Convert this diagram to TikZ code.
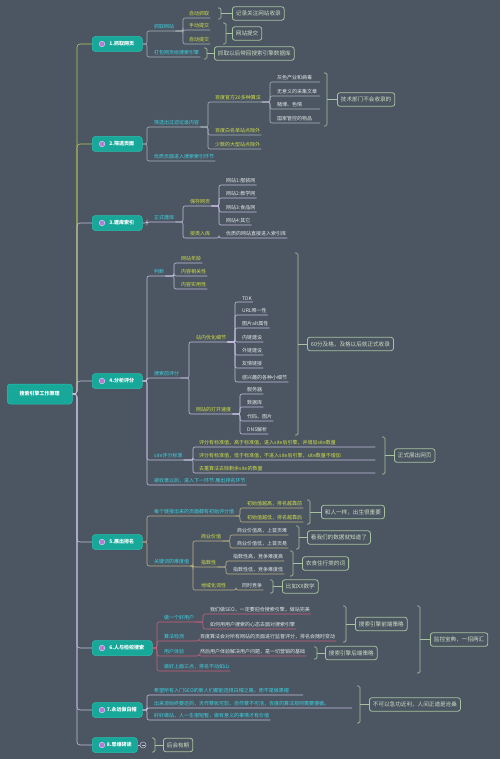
\documentclass[tikz,border=0pt]{standalone}
\usepackage{fontspec}
\newfontfamily\cjk{Noto Sans CJK SC}
\usetikzlibrary{calc}
\definecolor{bgc}{HTML}{4B5662}
\definecolor{tealc}{HTML}{17A89A}
\definecolor{teald}{HTML}{2BBFB0}
\definecolor{cyanc}{HTML}{3DD3E3}
\definecolor{yelc}{HTML}{D3DE4A}
\definecolor{whc}{HTML}{E4E6E8}
\definecolor{boxc}{HTML}{A6C29E}
\definecolor{boxt}{HTML}{CCDCC4}
\definecolor{lng}{HTML}{A9B1B9}
\definecolor{lnp}{HTML}{C8607C}
\definecolor{lnt}{HTML}{BFAE88}
\definecolor{lnl}{HTML}{C4BEDC}
\definecolor{lny}{HTML}{B6C95C}
\definecolor{iconc}{HTML}{B57AD6}
\newcommand\cnx[4][lng]{\draw[ln,#1] let \p1=(#2) in (#2) -- (#3pt,\y1) |- (#4);}
\newcommand\brk[6]{%
 \draw[brc] (#1-3,#2) -- (#1,#2) -- (#1,#3) -- (#1-3,#3);
 \node[sumbox] (#5) at (#4,{(#2+#3)/2}) {#6};
 \draw[brc] (#1,{(#2+#3)/2}) -- (#5.west);}
\begin{document}
\begin{tikzpicture}[x=1pt,y=-1pt,font=\cjk\fontsize{5}{6}\selectfont,
 tx/.style={anchor=south west,inner xsep=1pt,inner ysep=1.6pt},
 cy/.style={tx,text=cyanc},
 yl/.style={tx,text=yelc},
 wt/.style={tx,text=whc},
 mainbox/.style={anchor=west,fill=tealc,draw=teald,line width=0.5pt,rounded corners=3pt,minimum height=15pt,minimum width=50pt,text=white,font=\cjk\bfseries\fontsize{5}{6}\selectfont,inner xsep=2pt},
 rootbox/.style={anchor=west,fill=tealc,draw=teald,line width=0.5pt,rounded corners=3pt,minimum height=20pt,minimum width=65pt,text=white,font=\cjk\bfseries\fontsize{5}{6}\selectfont},
 sumbox/.style={anchor=west,draw=boxc,line width=0.8pt,rounded corners=2.5pt,minimum height=13.5pt,text=boxt,inner xsep=3.5pt,inner ysep=1pt,font=\cjk\fontsize{5.6}{6}\selectfont},
 ln/.style={line width=0.6pt,rounded corners=2pt},
 brc/.style={draw=boxc,line width=0.7pt,rounded corners=1.5pt},
 icon/.style={fill=iconc,draw=white!70!iconc,line width=0.4pt}
]
\fill[bgc] (0,0) rectangle (500,759);
\useasboundingbox (0,0) rectangle (500,759);

% root and main nodes
\node[rootbox] (R) at (7,394) {搜索引擎工作原理};
\node[mainbox] (M1) at (92,44) {\hspace{9pt}1.抓取网页};
\node[mainbox] (M2) at (92,144) {\hspace{9pt}2.筛选页面};
\node[mainbox] (M3) at (92,223) {\hspace{9pt}3.建库索引};
\node[mainbox] (M4) at (92,381) {\hspace{9pt}4.分析评分};
\node[mainbox] (M5) at (92,542) {\hspace{9pt}5.展出排名};
\node[mainbox,minimum width=60pt] (M6) at (92,648) {\hspace{9pt}6.人与检校搜索};
\node[mainbox] (M7) at (92,710) {\hspace{9pt}7.永远做白帽};
\node[mainbox,minimum width=45pt] (M8) at (92,745) {\hspace{9pt}8.思维研读};
\foreach \m in {M1,M2,M3,M4,M5,M6,M7,M8} \draw[icon] ($(\m.west)+(10,0)$) circle (2.8pt);

\draw[ln,lny,rounded corners=3pt] (R.east) -- (77,394) |- (M1.west);
\draw[ln,lny,rounded corners=3pt] (R.east) -- (77,394) |- (M2.west);
\foreach \m in {M3,M4,M5,M6,M7,M8} \draw[ln,lnl,rounded corners=3pt] (R.east) -- (77,394) |- (\m.west);

% branch 1
\node[cy] (a1) at (153,31) {抓取网站};
\node[yl] (a11) at (188,18) {自动抓取};
\node[yl] (a12) at (188,30) {手动提交};
\node[yl] (a13) at (188,44) {自动提交};
\node[cy] (a2) at (153,57) {打包网页给搜索引擎};
\cnx{M1.east}{147}{a1.south east}
\cnx{M1.east}{147}{a2.south east}
\cnx{a1.south east}{183}{a11.south east}
\cnx{a1.south east}{183}{a12.south east}
\cnx{a1.south east}{183}{a13.south east}
\brk{221}{8}{19}{232}{s1}{记录关注网站收录}
\brk{226}{23}{44}{232}{s2}{网站提交}
\brk{207}{48}{59}{214}{s3}{抓取以后带回搜索引擎数据库}

% branch 2
\node[cy] (b1) at (153,127) {筛选出过滤垃圾内容};
\node[yl] (b11) at (214,102) {百度官方20多种算法};
\node[yl] (b12) at (214,135) {百度白名单站点除外};
\node[yl] (b13) at (214,149) {少数的大型站点除外};
\node[wt] (b111) at (276,82) {灰色产业和病毒};
\node[wt] (b112) at (276,96) {无意义的采集文章};
\node[wt] (b113) at (276,109) {赌博、色情};
\node[wt] (b114) at (276,123) {国家管控的物品};
\node[cy] (b2) at (153,161) {优质页面进入搜索索引环节};
\cnx{M2.east}{147}{b1.south east}
\cnx{M2.east}{147}{b2.south east}
\cnx{b1.south east}{208}{b11.south east}
\cnx{b1.south east}{208}{b12.south east}
\cnx{b1.south east}{208}{b13.south east}
\cnx{b11.south east}{270}{320,82}
\cnx{b11.south east}{270}{320,96}
\cnx{b11.south east}{270}{320,109}
\cnx{b11.south east}{270}{320,123}
\brk{327}{73}{126}{337}{s4}{技术部门不会收录的}

% branch 3
\node[cy] (c1) at (153,222) {正式建库};
\node[yl] (c11) at (189,206) {保存网页};
\node[yl] (c12) at (189,238) {按类入库};
\node[wt] (c111) at (225,185) {网站1:服装网};
\node[wt] (c112) at (225,198) {网站2:教学网};
\node[wt] (c113) at (225,212) {网站3:食品网};
\node[wt] (c114) at (225,225) {网站4:其它};
\node[wt] (c121) at (225,238) {优质的网站直接进入索引库};
\cnx[lnl]{M3.east}{147}{c1.south east}
\cnx[lnl]{c1.south east}{183}{c11.south east}
\cnx[lnl]{c1.south east}{183}{c12.south east}
\cnx[lnl]{c11.south east}{219}{c111.south east}
\cnx[lnl]{c11.south east}{219}{c112.south east}
\cnx[lnl]{c11.south east}{219}{c113.south east}
\cnx[lnl]{c11.south east}{219}{c114.south east}
\cnx[lnl]{c12.south east}{219}{c121.south east}

% branch 4
\node[cy] (d1) at (153,276) {判断};
\node[yl] (d11) at (180,263) {网站年龄};
\node[yl] (d12) at (180,276) {内容相关性};
\node[yl] (d13) at (180,289) {内容实用性};
\node[cy] (d2) at (153,378) {搜索前评分};
\node[yl] (d21) at (195,342) {站内优化细节};
\node[yl] (d22) at (195,414) {网站的打开速度};
\node[wt] (d211) at (241,302) {TDK};
\node[wt] (d212) at (241,315) {URL唯一性};
\node[wt] (d213) at (241,328) {图片alt属性};
\node[wt] (d214) at (241,342) {内链建设};
\node[wt] (d215) at (241,355) {外链建设};
\node[wt] (d216) at (241,368) {友情链接};
\node[wt] (d217) at (241,382) {感兴趣的各种小细节};
\node[wt] (d221) at (246,394) {服务器};
\node[wt] (d222) at (246,407) {数据库};
\node[wt] (d223) at (246,421) {代码、图片};
\node[wt] (d224) at (246,434) {DNS解析};
\node[cy] (d3) at (153,460) {site评分标准};
\node[yl,text width=175pt] (d31) at (198,447) {评分有标准值，高于标准值，进入site后引擎，并增加site数量};
\node[yl,text width=175pt] (d32) at (198,460) {评分有标准值，低于标准值，不进入site后引擎，site数量不增加};
\node[yl,text width=175pt] (d33) at (198,473) {去重算法去除剩余site的数量};
\node[cy] (d4) at (153,485) {被收录以后，进入下一环节 展出排名环节};
\foreach \c in {d1,d2,d3,d4} {\cnx[lnl]{M4.east}{147}{\c.south east}}
\foreach \c in {d11,d12,d13} {\cnx[lnl]{d1.south east}{174}{\c.south east}}
\foreach \c in {d21,d22} {\cnx[lnl]{d2.south east}{189}{\c.south east}}
\foreach \c in {d211,d212,d213,d214,d215,d216,d217} {\cnx[lnl]{d21.south east}{235}{\c.south east}}
\foreach \c in {d221,d222,d223,d224} {\cnx[lnl]{d22.south east}{240}{\c.south east}}
\foreach \c in {d31,d32,d33} {\cnx[lnl]{d3.south east}{193}{\c.south east}}
\brk{298}{253}{435}{307}{s5}{60分及格，及格以后就正式收录}
\brk{385}{437}{474}{394}{s6}{正式展出网页}

% branch 5
\node[cy] (e1) at (153,516) {每个链接出来的页面都有初始评分值};
\node[yl] (e11) at (246,508) {初始值越高，排名越靠前};
\node[yl] (e12) at (246,522) {初始值越低，排名越靠后};
\node[cy] (e2) at (153,566) {关键词的难度值};
\node[yl] (e21) at (200,541) {商业价值};
\node[yl] (e22) at (200,567) {指数性};
\node[yl] (e23) at (200,590) {地域化词性};
\node[wt] (e211) at (236,535) {商业价值高，上首页难};
\node[wt] (e212) at (236,548) {商业价值低，上首页易};
\node[wt] (e221) at (232,561) {指数性高，竞争难度高};
\node[wt] (e222) at (232,574) {指数性低，竞争难度低};
\node[wt] (e231) at (241,590) {同时竞争};
\cnx[lnt]{M5.east}{147}{e1.south east}
\cnx[lnt]{M5.east}{147}{e2.south east}
\cnx[lnt]{e1.south east}{240}{e11.south east}
\cnx[lnt]{e1.south east}{240}{e12.south east}
\foreach \c in {e21,e22,e23} {\cnx[lnt]{e2.south east}{193}{\c.south east}}
\cnx[lnt]{e21.south east}{230}{e211.south east}
\cnx[lnt]{e21.south east}{230}{e212.south east}
\cnx[lnt]{e22.south east}{226}{e221.south east}
\cnx[lnt]{e22.south east}{226}{e222.south east}
\cnx[lnt]{e23.south east}{236}{e231.south east}
\brk{310}{500}{524}{321}{s7}{和人一样，出生很重要}
\brk{299}{526}{549}{307}{s8}{看我们的数据就知道了}
\brk{293}{551}{576}{302}{s9}{衣食住行类的词}
\brk{273}{580}{593}{282}{s10}{比如XX数学}

% branch 6
\node[cy] (f1) at (163,622) {做一个好用户};
\node[wt] (f11) at (209,614) {我们做SEO，一定要迎合搜索引擎，做站完美};
\node[wt] (f12) at (209,629) {如何用用户搜索的心态去面对搜索引擎};
\node[cy] (f2) at (163,641) {算法检测};
\node[wt] (f21) at (199,641) {百度算法会对所有网站的页面进行监督评分，排名会随时变动};
\node[cy] (f3) at (163,656) {用户体验};
\node[wt] (f31) at (199,656) {然后用户体验解决用户问题，是一切营销的基础};
\node[cy] (f4) at (163,671) {做好上面三点，排名不动如山};
\foreach \c in {f1,f2,f3,f4} {\cnx[lnp]{M6.east}{157}{\c.south east}}
\cnx[lnp]{f1.south east}{203}{f11.south east}
\cnx[lnp]{f1.south east}{203}{f12.south east}
\cnx[lnp]{f2.south east}{199}{f21.south east}
\cnx[lnp]{f3.south east}{199}{f31.south east}
\brk{346}{606}{642}{355}{s11}{搜索引擎前端策略}
\brk{317}{647}{659}{325}{s12}{搜索引擎后端策略}
\brk{420}{606}{673}{430}{s13}{监控宝典，一招两汇}

% branch 7
\node[cy] (g1) at (153,695) {希望所有入门SEO的新人们都能选择白帽之路，而不是做黑帽};
\node[cy] (g2) at (153,708) {出来混始终要还的，天作孽犹可恕，自作孽不可活，百度的算法规则需要遵循。};
\node[cy] (g3) at (153,720) {好好做站，人一生很短暂，做有意义的事情才有价值};
\cnx[lnl]{M7.east}{147}{303,695}
\cnx[lnl]{M7.east}{147}{352,708}
\cnx[lnl]{M7.east}{147}{g3.south east}
\brk{360}{686}{723}{369}{s14}{不可以急功近利，人间正道是沧桑}

% branch 8
\node[circle,draw=lnl,line width=0.5pt,minimum size=6pt,inner sep=0pt] (k8) at (143,745) {};
\draw[lnl,line width=0.6pt] ($(k8.center)+(-1.5,0)$) -- ($(k8.center)+(1.5,0)$);
\draw[ln,lnl] (M8.east) -- (k8.west);
\brk{155}{738}{752}{163}{s15}{后会有期}
\end{tikzpicture}
\end{document}
